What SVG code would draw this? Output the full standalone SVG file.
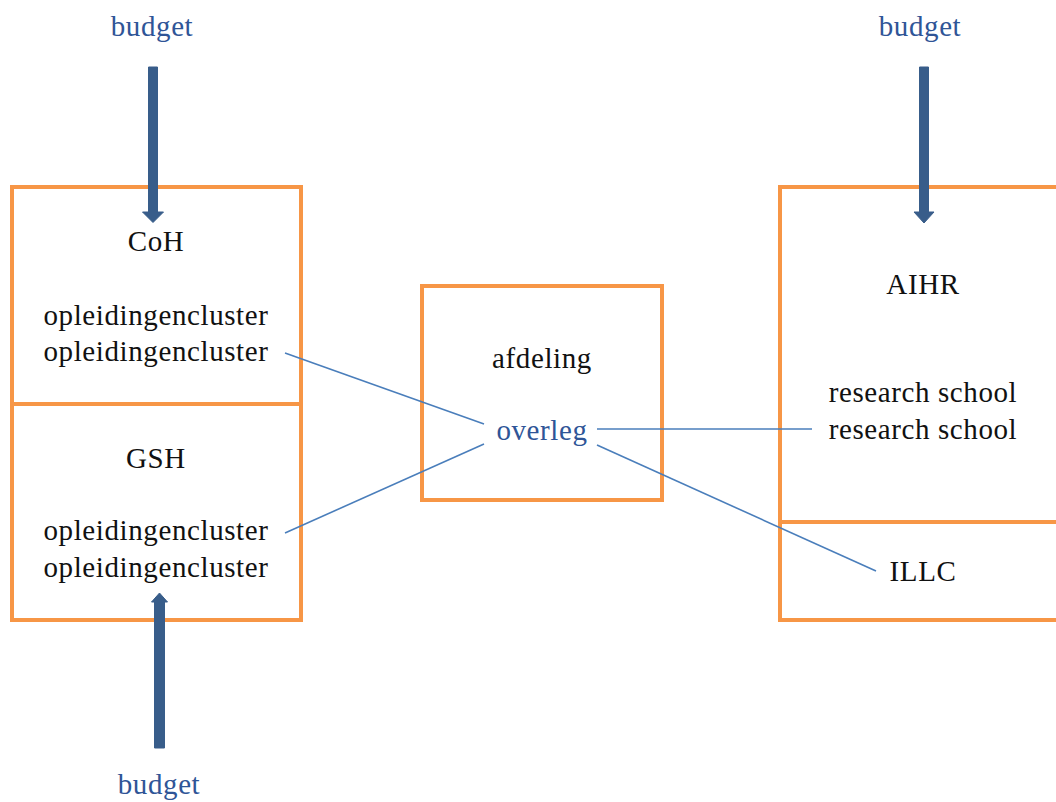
<svg xmlns="http://www.w3.org/2000/svg" width="1056" height="802" viewBox="0 0 1056 802">
<style>
.box{fill:none;stroke:#F79646;stroke-width:4;stroke-linejoin:miter}
.t{font-family:"Liberation Serif","Times New Roman",serif;font-size:29px;letter-spacing:0.6px;fill:#111;text-anchor:middle}
.b{fill:#2F5597}
.con{stroke:#4A7EBB;stroke-width:1.6;fill:none}
.arr{fill:#385D8A;stroke:#385D8A;stroke-width:1;stroke-linejoin:round}
</style>
<rect width="1056" height="802" fill="#fff"/>
<g id="CoH">
<rect class="box" x="12" y="187" width="289" height="217"/>
<text class="t" x="156" y="251">CoH</text>
<text class="t" x="156" y="325">opleidingencluster</text>
<text class="t" x="156" y="361">opleidingencluster</text>
</g>
<g id="GSH">
<rect class="box" x="12" y="404" width="289" height="216"/>
<text class="t" x="156" y="468">GSH</text>
<text class="t" x="156" y="540">opleidingencluster</text>
<text class="t" x="156" y="577">opleidingencluster</text>
</g>
<g id="afdeling">
<rect class="box" x="422" y="286" width="240" height="214"/>
<text class="t" x="542" y="368">afdeling</text>
<text class="t b" x="542" y="440">overleg</text>
</g>
<g id="AIHR">
<rect class="box" x="780" y="187" width="290" height="335"/>
<text class="t" x="923" y="294">AIHR</text>
<text class="t" x="923" y="402">research school</text>
<text class="t" x="923" y="439">research school</text>
</g>
<g id="ILLC">
<rect class="box" x="780" y="522" width="290" height="98"/>
<text class="t" x="923" y="581">ILLC</text>
</g>
<g id="budget-labels">
<text class="t b" x="152" y="36">budget</text>
<text class="t b" x="920" y="36">budget</text>
<text class="t b" x="159" y="794">budget</text>
</g>
<g id="connectors">
<line class="con" x1="285" y1="353" x2="484" y2="424"/>
<line class="con" x1="285" y1="533" x2="484" y2="444"/>
<line class="con" x1="597" y1="429" x2="812" y2="429"/>
<line class="con" x1="597" y1="445" x2="876" y2="571"/>
<polygon class="arr" points="148.5,67 157.5,67 157.5,212 163.5,212 153,222.5 142.5,212 148.5,212"/>
<polygon class="arr" points="919.5,67 928.5,67 928.5,212 934,212 924,223 914,212 919.5,212"/>
<path class="arr" d="M154.5,748 L154.5,602 L151.5,602 L159.5,593 L167.5,602 L164.5,602 L164.5,748 Z"/>
</g>
</svg>
